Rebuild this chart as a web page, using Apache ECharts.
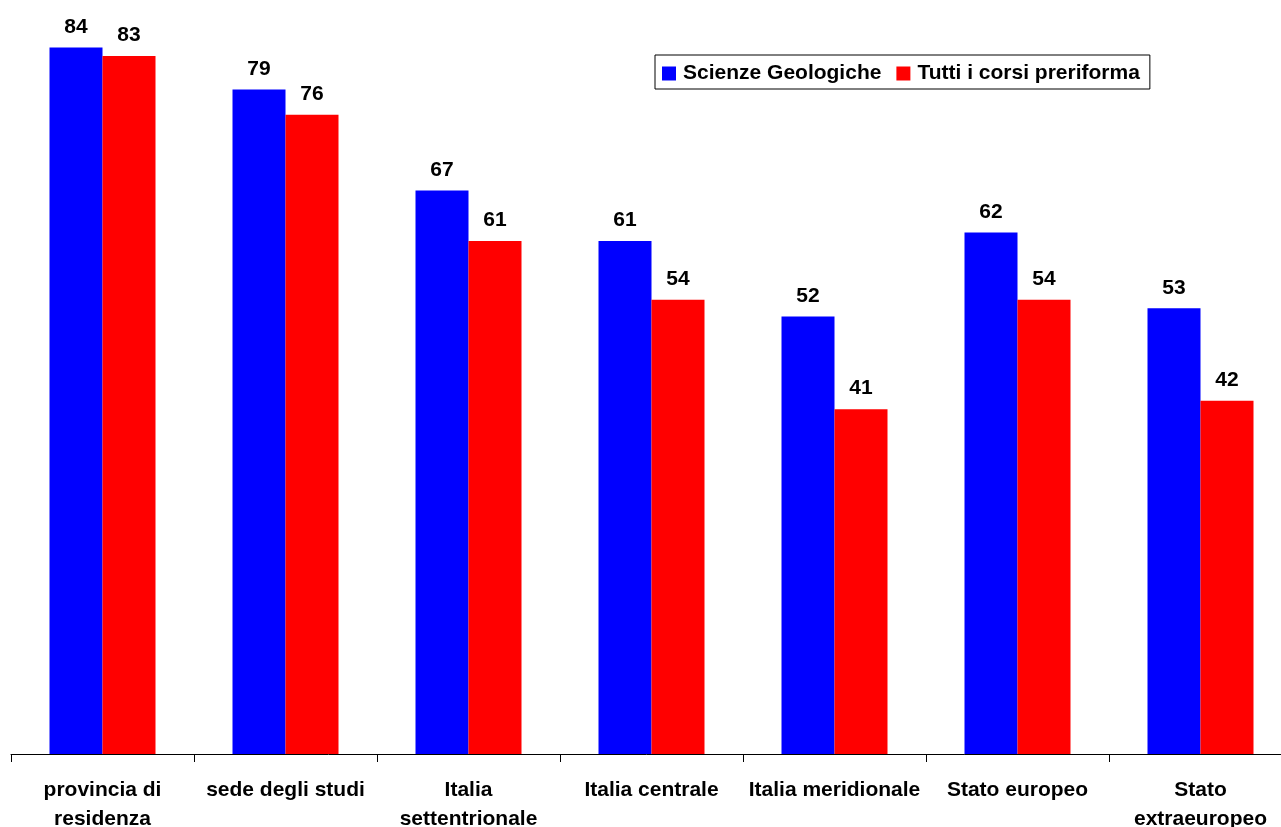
<!DOCTYPE html>
<html>
<head>
<meta charset="utf-8">
<script src="https://cdn.jsdelivr.net/npm/echarts@6/dist/echarts.min.js"></script>
<style>
  html, body { margin: 0; padding: 0; background: #fff; }
  #chart { width: 1281px; height: 827px; }
</style>
</head>
<body>
<div id="chart"></div>
<script>
// Categories (x axis) and percentages for each series
const categories = [
  'provincia di\nresidenza',
  'sede degli studi',
  'Italia\nsettentrionale',
  'Italia centrale',
  'Italia meridionale',
  'Stato europeo',
  'Stato\nextraeuropeo'
];
const seriesNames = ['Scienze Geologiche', 'Tutti i corsi preriforma'];
const geologiche = [84, 79, 67, 61, 52, 62, 53];
const preriforma = [83, 76, 61, 54, 41, 54, 42];

const FONT = 'Arial, "Liberation Sans", Helvetica, sans-serif';

const chart = echarts.init(document.getElementById('chart'), null, { renderer: 'canvas' });

const labelStyle = {
  show: true,
  position: 'top',
  distance: 10,
  color: '#000',
  fontFamily: FONT,
  fontWeight: 'bold',
  fontSize: 21
};

chart.setOption({
  animation: false,
  backgroundColor: '#ffffff',
  grid: {
    left: 11, top: -3, width: 1281, height: 757,
    containLabel: false,
    outerBoundsMode: 'none'
  },
  legend: {
    data: seriesNames,
    left: 655,
    top: 55,
    orient: 'horizontal',
    itemWidth: 14,
    itemHeight: 14,
    itemGap: 15,
    padding: [8, 10, 5, 7],
    borderColor: '#000',
    borderWidth: 1,
    backgroundColor: '#fff',
    icon: 'rect',
    textStyle: { color: '#000', fontFamily: FONT, fontWeight: 'bold', fontSize: 21, padding: [0, 0, 0, 2] }
  },
  xAxis: {
    type: 'category',
    data: categories,
    boundaryGap: true,
    axisLine: { show: true, lineStyle: { color: '#000', width: 1 } },
    axisTick: { show: true, length: 8, lineStyle: { color: '#000' } },
    axisLabel: {
      interval: 0,
      margin: 22,
      color: '#000',
      fontFamily: FONT,
      fontWeight: 'bold',
      fontSize: 21,
      lineHeight: 29
    }
  },
  yAxis: {
    type: 'value',
    min: 0,
    max: 90,
    show: false,
    splitLine: { show: false }
  },
  series: [
    {
      name: seriesNames[0],
      type: 'bar',
      data: geologiche,
      barWidth: 53,
      barGap: '0%',
      itemStyle: { color: '#0000ff' },
      label: labelStyle
    },
    {
      name: seriesNames[1],
      type: 'bar',
      data: preriforma,
      barWidth: 53,
      barGap: '0%',
      itemStyle: { color: '#ff0000' },
      label: labelStyle
    }
  ]
});
</script>
</body>
</html>
